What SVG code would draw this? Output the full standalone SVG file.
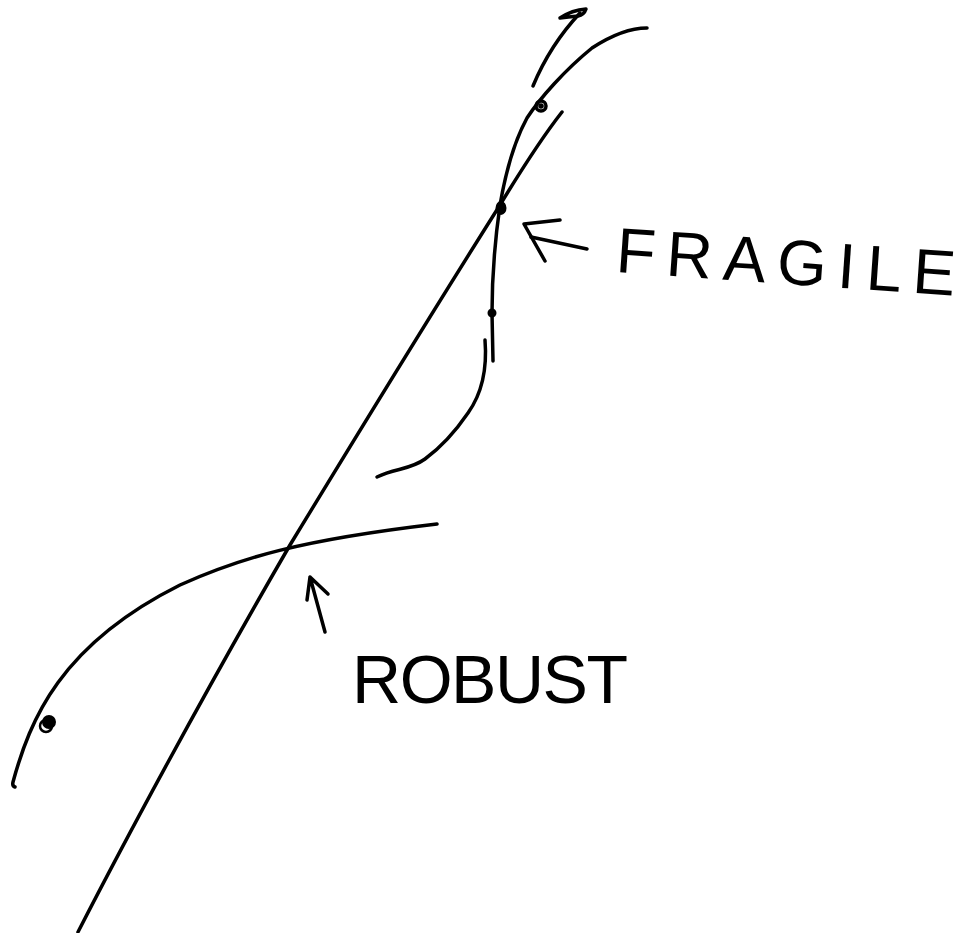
<svg xmlns="http://www.w3.org/2000/svg" width="972" height="933" viewBox="0 0 972 933">
<style>
.s{fill:none;stroke:#000;stroke-width:3.5;stroke-linecap:round;stroke-linejoin:round}
.d{fill:#000;stroke:#000;stroke-width:2}
.t{font-family:"Liberation Sans",Arial,sans-serif;fill:#000;font-weight:normal}
</style>
<rect width="972" height="933" fill="#fff"/>
<g id="line">
<path class="s" d="M78,932 C120,850 200,700 290,545 C360,430 440,300 500,205 C520,172 540,140 562,112"/>
</g>
<g id="robust-curve">
<path class="s" d="M15,787 Q12,786 13,782 C30,720 60,645 180,585 C240,558 300,540 437,524"/>
<circle class="d" cx="49" cy="722" r="6"/>
<circle cx="46" cy="726" r="6" fill="none" stroke="#000" stroke-width="2.5"/>
</g>
<g id="fragile-curve">
<path class="s" d="M493,361 L492,313 C492,280 495,240 500,205 C506,170 515,140 527,118 C540,98 565,70 592,48 C612,35 630,28 647,28"/>
<ellipse class="d" cx="501" cy="208" rx="4.5" ry="6"/>
<circle cx="541" cy="106" r="5" fill="none" stroke="#000" stroke-width="3.5"/>
<circle class="d" cx="541" cy="106" r="1.8"/>
<circle class="d" cx="492" cy="313" r="3.5"/>
<path class="s" d="M485,340 C487,365 483,392 468,413 C455,432 440,448 425,459 C410,470 395,468 377,477"/>
<path class="s" d="M533,86 Q550,45 580,13"/>
<path class="s" d="M560,18 Q572,10 586,9 Q584,15 578,16 Q568,17 560,18"/>
</g>
<g id="fragile-label">
<path class="s" d="M560,220 L524,224 L545,261"/>
<path class="s" d="M531,237 L587,249"/>
<text class="t" x="615" y="272" font-size="64" textLength="340" lengthAdjust="spacing" transform="rotate(4 615 272)">FRAGILE</text>
</g>
<g id="robust-label">
<path class="s" d="M325,632 L310,577 M307,600 L310,577 L328,594"/>
<text class="t" x="352" y="703" font-size="68" textLength="276" lengthAdjust="spacing">ROBUST</text>
</g>
</svg>
